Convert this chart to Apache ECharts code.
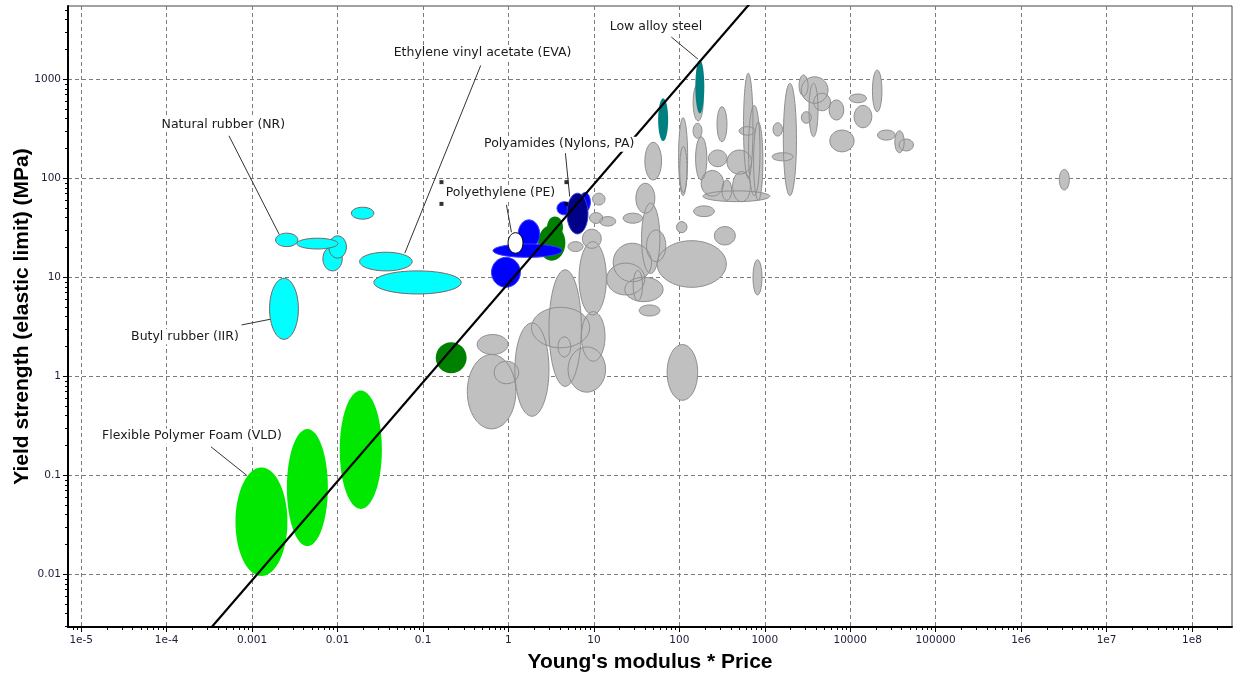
<!DOCTYPE html>
<html>
<head>
<meta charset="utf-8">
<script src="https://cdn.jsdelivr.net/npm/echarts@6/dist/echarts.min.js"></script>
<style>html,body{margin:0;padding:0;background:#fff}#chart{width:1233px;height:675px}</style>
</head>
<body>
<div id="chart"></div>
<script>
// axis ranges and ticks
var xRange = [7e-6, 2.94e8];
var yRange = [0.00293, 5500];
var xTicks = [1e-5, 1e-4, 0.001, 0.01, 0.1, 1, 10, 100, 1000, 1e4, 1e5, 1e6, 1e7, 1e8];
var xTickLabels = ['1e-5', '1e-4', '0.001', '0.01', '0.1', '1', '10', '100', '1000', '10000', '100000', '1e6', '1e7', '1e8'];
var yTicks = [0.01, 0.1, 1, 10, 100, 1000];
var yTickLabels = ['0.01', '0.1', '1', '10', '100', '1000'];

// bubbles: [x low, x high, y low, y high]
var grayBubbles = [
    [0.33, 1.22, 0.294, 1.66], [0.43, 0.99, 1.66, 2.64], [0.68, 1.32, 0.84, 1.42],
    [1.19, 2.98, 0.394, 3.46], [2.98, 7.14, 0.79, 11.9], [1.86, 8.93, 1.94, 4.97],
    [3.8, 5.36, 1.57, 2.5], [7.14, 13.5, 1.42, 4.49], [4.98, 13.7, 0.69, 1.98],
    [6.7, 14, 4.16, 22.9], [4.98, 7.46, 18.2, 22.9], [14.1, 39.5, 6.62, 13.9],
    [16.8, 47.3, 9.0, 22.1], [23, 64.6, 5.67, 10], [28.8, 37.1, 5.8, 11.7],
    [33.9, 59.2, 4.06, 5.25], [55, 355, 7.92, 23.4], [72, 164, 0.572, 2.09],
    [7.33, 12.2, 19.6, 30.6], [9.65, 13.5, 53.7, 70.7], [11.7, 18, 32.9, 41],
    [8.9, 12.7, 35, 45], [22, 37.1, 35.2, 44.4], [31, 51.7, 44.4, 89],
    [36.1, 59.2, 10.9, 55.9], [41.3, 69.5, 14.4, 30], [92.7, 123, 28.2, 36.5],
    [147, 257, 41, 52.6], [257, 452, 21.2, 32.5], [728, 927, 6.62, 15],
    [39.5, 61.9, 96, 231], [98, 125, 66.9, 409], [101, 123, 71.7, 210],
    [145, 190, 380, 900], [145, 184, 253, 359], [155, 210, 96, 263],
    [180, 330, 66, 120], [219, 361, 131, 193], [276, 361, 234, 528],
    [315, 410, 60, 96], [361, 700, 110, 193], [420, 680, 58, 117],
    [500, 774, 273, 332], [564, 728, 100, 1150], [646, 879, 66.9, 545],
    [740, 950, 60, 370], [1250, 1610, 267, 364], [1650, 2350, 66.9, 911],
    [1220, 2140, 150, 181], [2680, 5500, 572, 1060], [2520, 3210, 678, 1105],
    [3290, 4200, 263, 911], [3740, 5880, 481, 722], [2680, 3500, 359, 471],
    [5670, 8400, 388, 618], [9750, 15500, 580, 710], [11100, 17900, 324, 545],
    [5770, 11100, 185, 307], [18200, 23500, 470, 1242], [20900, 33600, 243, 307],
    [37300, 55000, 189, 249], [33300, 42800, 181, 302], [189, 1144, 58.1, 74.6],
    [2.8e6, 3.67e6, 76.2, 123]
];
var elastomerBubbles = [
    [0.0145, 0.0266, 38.6, 51], [0.00188, 0.00343, 20.4, 27.9], [0.00673, 0.01135, 11.6, 20.4],
    [0.0079, 0.0127, 15.6, 26.2], [0.00333, 0.0101, 19.3, 24.8], [0.0181, 0.0747, 11.6, 17.9],
    [0.0266, 0.28, 6.78, 11.6], [0.0016, 0.00348, 2.36, 9.77]
];
var foamBubbles = [
    [0.000638, 0.00259, 0.0096, 0.12], [0.00255, 0.0077, 0.0192, 0.294], [0.0106, 0.033, 0.0457, 0.717]
];
var darkGreenBubbles = [
    [0.141, 0.324, 1.07, 2.21], [2.83, 4.35, 25, 41], [2.22, 4.64, 14.7, 33.8]
];
var blueBubbles = [
    [0.633, 1.38, 7.92, 15.9], [1.30, 2.32, 19.6, 38], [0.66, 4.24, 15.9, 21.7],
    [3.7, 5.45, 42.7, 58], [6.82, 9.1, 46, 71.7]
];
var navyBubbles = [[4.84, 8.53, 27.4, 70.7]];
var whiteBubbles = [[0.99, 1.48, 17.5, 28.2]];
var tealBubbles = [[56.5, 74, 238, 643], [154, 196, 453, 1567]];

// guide line (slope 1 on log-log)
var guideLine = [[3e-4, 2.61e-3], [700, 6090]];

// annotations: text anchor (left, middle), leader start, leader end
var annNames = ['Low alloy steel', 'Ethylene vinyl acetate (EVA)', 'Natural rubber (NR)', 'Butyl rubber (IIR)',
    'Flexible Polymer Foam (VLD)', 'Polyethylene (PE)', 'Polyamides (Nylons, PA)'];
var annText = [[14.5, 3420], [0.043, 1833], [8.26e-5, 349], [3.63e-5, 2.51], [1.66e-5, 0.248], [0.175, 70.6], [0.491, 221]];
var annFrom = [[80.6, 2673], [0.474, 1380], [5.36e-4, 268.5], [7.54e-4, 3.30], [3.3e-4, 0.1936], [0.947, 53.8], [4.64, 179.5]];
var annTo = [[165, 1600], [0.0612, 17.5], [2.07e-3, 27.2], [1.62e-3, 3.76], [8.62e-4, 0.1], [1.084, 28.5], [5.21, 65.3]];
var peHandles = [[0.1645, 91.4], [0.1645, 55.1], [4.77, 91.4], [4.77, 55.1]];

function minorTicks(range) {
    var out = [];
    for (var d = Math.floor(Math.log10(range[0])); d <= Math.ceil(Math.log10(range[1])); d++) {
        for (var k = 2; k <= 9; k++) {
            var v = k * Math.pow(10, d);
            if (v > range[0] && v < range[1]) out.push(v);
        }
    }
    return out;
}

function tickLabel(ticks, labels) {
    return function (v) {
        for (var i = 0; i < ticks.length; i++) {
            if (Math.abs(Math.log10(ticks[i]) - Math.log10(v)) < 1e-6) return labels[i];
        }
        return '';
    };
}

function bubbleSeries(data, fill, stroke, lw, z) {
    return {
        type: 'custom',
        data: data,
        z: z,
        silent: true,
        clip: true,
        encode: {x: [0, 1], y: [2, 3]},
        renderItem: function (params, api) {
            var a = api.coord([api.value(0), api.value(2)]);
            var b = api.coord([api.value(1), api.value(3)]);
            return {
                type: 'ellipse',
                shape: {
                    cx: (a[0] + b[0]) / 2, cy: (a[1] + b[1]) / 2,
                    rx: Math.abs(b[0] - a[0]) / 2, ry: Math.abs(b[1] - a[1]) / 2
                },
                style: {fill: fill, stroke: stroke, lineWidth: lw}
            };
        }
    };
}

var chart = echarts.init(document.getElementById('chart'));
window.addEventListener('resize', function () { chart.resize(); });

var labelFont = 'DejaVu Sans';
var tickColor = '#1c1c3a';
var gridDash = {type: [4, 3], color: '#7c7c7c', width: 1};

var annData = annNames.map(function (n, i) {
    return [annText[i][0], annText[i][1], annFrom[i][0], annFrom[i][1], annTo[i][0], annTo[i][1]];
});

var option = {
    backgroundColor: '#fff',
    animation: false,
    grid: {
        left: 68, right: 1, top: 6, bottom: 48, containLabel: false, outerBoundsMode: 'none',
        show: true, borderColor: '#444', borderWidth: 1
    },
    xAxis: [{
        type: 'log', min: xRange[0], max: xRange[1],
        name: "Young's modulus * Price", nameLocation: 'middle', nameGap: 25,
        nameTextStyle: {fontSize: 21, fontWeight: 'bold', color: '#000', fontFamily: 'Liberation Sans'},
        axisLine: {lineStyle: {color: '#000', width: 2}},
        axisTick: {customValues: xTicks, length: 5, lineStyle: {color: '#000'}},
        axisLabel: {customValues: xTicks, formatter: tickLabel(xTicks, xTickLabels), fontSize: 10.5, color: tickColor, margin: 8, fontFamily: labelFont},
        splitLine: {show: true, lineStyle: gridDash}
    }, {
        type: 'log', min: xRange[0], max: xRange[1], position: 'bottom',
        axisLine: {show: false}, axisLabel: {show: false}, splitLine: {show: false},
        axisTick: {customValues: minorTicks(xRange), length: 3, lineStyle: {color: '#000'}}
    }],
    yAxis: [{
        type: 'log', min: yRange[0], max: yRange[1],
        name: 'Yield strength (elastic limit) (MPa)', nameLocation: 'middle', nameGap: 35, nameMoveOverlap: false,
        nameTextStyle: {fontSize: 21, fontWeight: 'bold', color: '#000', fontFamily: 'Liberation Sans'},
        axisLine: {lineStyle: {color: '#000', width: 2}},
        axisTick: {customValues: yTicks, length: 5, lineStyle: {color: '#000'}},
        axisLabel: {customValues: yTicks, formatter: tickLabel(yTicks, yTickLabels), fontSize: 10.5, color: tickColor, margin: 7, fontFamily: labelFont},
        splitLine: {show: true, lineStyle: gridDash}
    }, {
        type: 'log', min: yRange[0], max: yRange[1], position: 'left',
        axisLine: {show: false}, axisLabel: {show: false}, splitLine: {show: false},
        axisTick: {customValues: minorTicks(yRange), length: 3, lineStyle: {color: '#000'}}
    }],
    series: [
        bubbleSeries(grayBubbles, '#c0c0c0', null, 0, 2),
        bubbleSeries(grayBubbles, 'none', '#8e8e8e', 1, 3),
        bubbleSeries(elastomerBubbles, '#00ffff', '#7a6262', 1, 4),
        bubbleSeries(foamBubbles, '#00e800', null, 0, 4),
        bubbleSeries(darkGreenBubbles, '#008000', null, 0, 5),
        bubbleSeries(blueBubbles, '#0000ff', '#3a3aff', 1, 6),
        bubbleSeries(navyBubbles, '#000088', '#3a3ad0', 1, 7),
        bubbleSeries(whiteBubbles, '#ffffff', '#000', 1, 8),
        bubbleSeries(tealBubbles, '#008080', null, 0, 8),
        {
            type: 'line', data: guideLine, z: 9, silent: true, clip: true,
            showSymbol: false, symbol: 'none',
            lineStyle: {color: '#000', width: 2.2}
        },
        {
            type: 'custom', data: annData, z: 10, silent: true,
            encode: {x: [0, 2, 4], y: [1, 3, 5]},
            renderItem: function (params, api) {
                var t = api.coord([api.value(0), api.value(1)]);
                var f = api.coord([api.value(2), api.value(3)]);
                var e = api.coord([api.value(4), api.value(5)]);
                return {
                    type: 'group',
                    children: [{
                        type: 'line',
                        shape: {x1: f[0], y1: f[1], x2: e[0], y2: e[1]},
                        style: {stroke: '#333', lineWidth: 1}
                    }, {
                        type: 'text', x: t[0], y: t[1],
                        style: {
                            text: annNames[params.dataIndex], font: '12.5px "DejaVu Sans"', fill: '#1a1a1a',
                            align: 'left', verticalAlign: 'middle', backgroundColor: '#fff', padding: [1, 2]
                        }
                    }]
                };
            }
        },
        {
            type: 'scatter', data: peHandles, z: 11, silent: true,
            symbol: 'rect', symbolSize: 4, itemStyle: {color: '#000'}
        }
    ]
};

chart.setOption(option);
</script>
</body>
</html>
